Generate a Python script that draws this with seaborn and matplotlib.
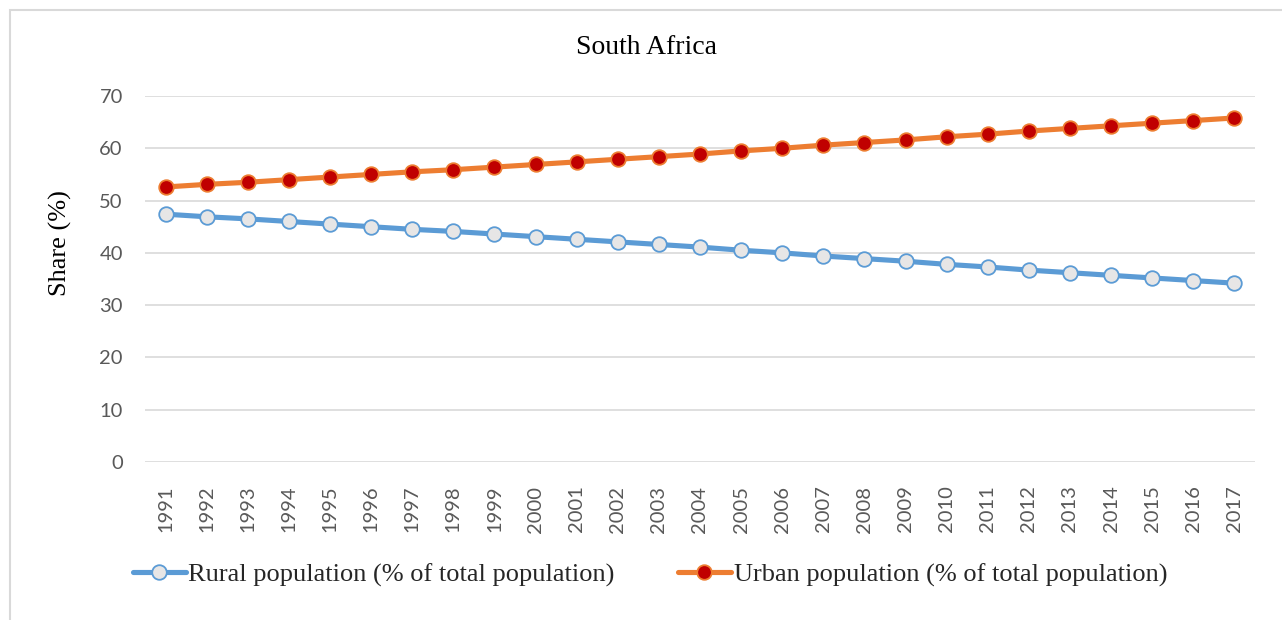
import seaborn as sns
import matplotlib.pyplot as plt
from matplotlib.lines import Line2D
from matplotlib.patches import Rectangle
import numpy as np
import pandas as pd


# ---------- DATA ---------- #

years = list(range(1991, 2018))
urban = [52.6, 53.1, 53.5, 54.0, 54.5, 55.0, 55.5, 55.9, 56.4, 56.9,
         57.4, 57.9, 58.4, 58.9, 59.5, 60.0, 60.6, 61.1, 61.6, 62.2,
         62.7, 63.3, 63.8, 64.3, 64.8, 65.3, 65.8]
rural = [47.4, 46.9, 46.5, 46.0, 45.5, 45.0, 44.5, 44.1, 43.6, 43.1,
         42.6, 42.1, 41.6, 41.1, 40.5, 40.0, 39.4, 38.9, 38.4, 37.8,
         37.3, 36.7, 36.2, 35.7, 35.2, 34.7, 34.2]
rural_label = "Rural population (% of total population)"
urban_label = "Urban population (% of total population)"
title = "South Africa"
ylabel = "Share (%)"


# ---------- STYLE ---------- #

sns.set_style("white")
serif = ["Liberation Serif", "DejaVu Serif"]
sans = ["Lato", "DejaVu Sans"]
tick_color = "#595959"
grid_color = "#D9D9D9"

blue = "#5B9BD5"
blue_face = "#E7E6E6"
orange = "#ED7D31"
red = "#C00000"
lw = 3.7
ms = 10.5


# ---------- PLOT ---------- #

df = pd.DataFrame({"pos": np.arange(len(years)), "rural": rural, "urban": urban})

fig = plt.figure(figsize=(12.82, 6.2), dpi=100)
ax = fig.add_axes([145 / 1282, (620 - 462) / 620, 1110 / 1282, 366 / 620])

sns.lineplot(data=df, x="pos", y="rural", ax=ax, color=blue, linewidth=lw,
             marker="o", markersize=ms, markerfacecolor=blue_face,
             markeredgecolor=blue, markeredgewidth=1.3, zorder=3)
sns.lineplot(data=df, x="pos", y="urban", ax=ax, color=orange, linewidth=lw,
             marker="o", markersize=ms, markerfacecolor=red,
             markeredgecolor=orange, markeredgewidth=1.3, zorder=4)

ax.set_xlim(-0.5, len(years) - 0.5)
ax.set_ylim(0, 70)
ax.set_yticks(range(0, 71, 10))
ax.set_xticks(df["pos"])
ax.set_xticklabels([str(y) for y in years], rotation=90)
ax.yaxis.grid(True, color=grid_color, linewidth=1.2)
ax.set_axisbelow(True)
for s in ax.spines.values():
    s.set_visible(False)
ax.tick_params(axis="both", length=0, colors=tick_color, labelsize=14.5)
ax.tick_params(axis="x", pad=17)
ax.tick_params(axis="y", pad=16)
for lbl in ax.get_xticklabels() + ax.get_yticklabels():
    lbl.set_family(sans)

ax.set_xlabel("")
ax.set_ylabel("")
fig.text(60 / 1282, 1 - 243 / 620, ylabel, rotation=90, ha="center", va="center",
         fontsize=19, family=serif, color="black")
fig.text(646 / 1282, 1 - 48 / 620, title, ha="center", va="center",
         fontsize=20, family=serif, color="black")

handles = [
    Line2D([], [], color=blue, linewidth=lw, marker="o", markersize=ms,
           markerfacecolor=blue_face, markeredgecolor=blue, markeredgewidth=1.3),
    Line2D([], [], color=orange, linewidth=lw, marker="o", markersize=ms,
           markerfacecolor=red, markeredgecolor=orange, markeredgewidth=1.3),
]
fig.legend(handles, [rural_label, urban_label], loc="center",
           bbox_to_anchor=(650 / 1282, 1 - 575 / 620), ncol=2, frameon=False,
           prop={"family": serif, "size": 19}, handlelength=2.0,
           handletextpad=0.1, columnspacing=2.4)

# outer chart border
fig.patches.append(Rectangle((10 / 1282, -0.05), 1.2, 1 - 10 / 620 + 0.05,
                             transform=fig.transFigure, fill=False,
                             edgecolor=grid_color, linewidth=1.5))

plt.savefig("out.png", dpi=100)
plt.close()
